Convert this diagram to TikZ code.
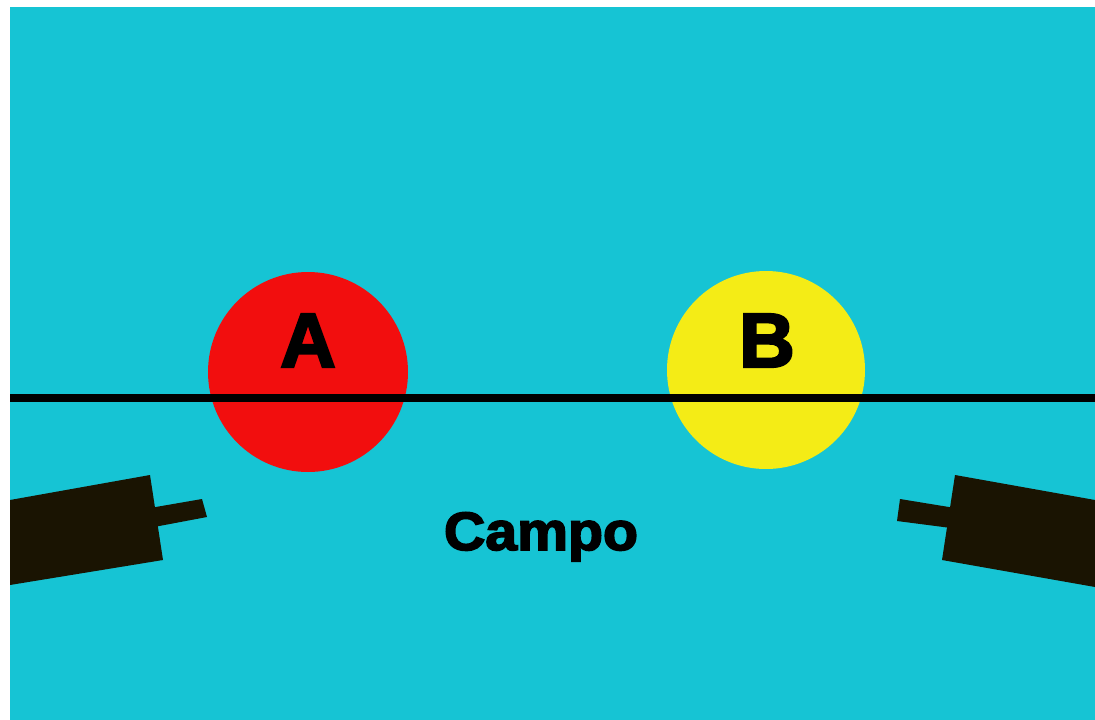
\documentclass[tikz,border=0pt]{standalone}
\usepackage{fontspec}
\setmainfont{Liberation Sans}[BoldFont={* Bold},BoldFeatures={FakeBold=3}]
\usepackage{tikz}

\definecolor{campocyan}{RGB}{22,196,212}
\definecolor{ballred}{RGB}{242,14,14}
\definecolor{ballyellow}{RGB}{244,236,22}
\definecolor{gundark}{RGB}{26,20,2}

\tikzset{
  ball/.style={circle,minimum size=200pt,inner sep=0pt},
  letter/.style={anchor=base,font=\fontsize{77}{80}\selectfont\bfseries},
  gun/.style={fill=gundark,draw=none}
}

\begin{document}
\begin{tikzpicture}[x=1pt,y=-1pt]
      \useasboundingbox (0,0) rectangle (1095,720);
      \fill[white] (0,0) rectangle (1095,720);
      \fill[campocyan] (10,7) rectangle (1095,720);
      %% Balls
      \node[ball,fill=ballred] (ballA) at (308,372) {};
      \node[ball,fill=ballyellow,minimum size=198pt] (ballB) at (766,370) {};
      \node[letter] (labA) at (308,367) {A};
      \node[letter] (labB) at (767,367) {B};
      %% Line through both balls
      \coordinate (west) at (10,398);
      \coordinate (east) at (1095,398);
      \draw[line width=7.5pt] (west) -- (east);
      %% Left gun
      \fill[gun] (150,508) -- (202,499) -- (207,517) -- (154,527) -- cycle;
      \fill[gun] (10,500) -- (150,475) -- (163,560) -- (10,585) -- cycle;
      %% Right gun
      \fill[gun] (955,508) -- (900,499) -- (897,521) -- (951,528) -- cycle;
      \fill[gun] (1095,500) -- (955,475) -- (942,560) -- (1095,587) -- cycle;
      %% Field label
      \node[anchor=base,xscale=1.06,font=\fontsize{54}{60}\selectfont\bfseries] (campo) at (541,550) {Campo};
    \end{tikzpicture}
\end{document}
